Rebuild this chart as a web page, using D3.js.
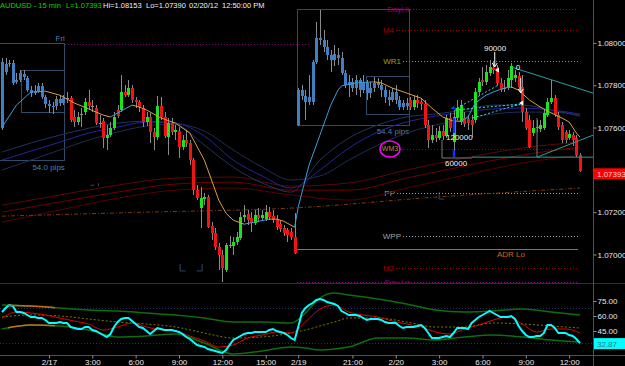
<!DOCTYPE html>
<html><head><meta charset="utf-8">
<script src="https://cdn.jsdelivr.net/npm/d3@7/dist/d3.min.js"></script>
<style>html,body{margin:0;padding:0;background:#000;overflow:hidden}svg{display:block}</style>
</head><body>
<script>
// ---------------- DATA ----------------
const opens=[1.07597,1.07863,1.07900,1.07905,1.07816,1.07825,1.07853,1.07834,1.07777,1.07763,1.07772,1.07797,1.07744,1.07711,1.07702,1.07702,1.07734,1.07716,1.07739,1.07739,
1.07650,1.07626,1.07664,1.07674,1.07721,1.07702,1.07692,1.07621,1.07630,1.07550,1.07564,1.07597,1.07683,1.07683,1.07768,1.07753,1.07787,1.07730,1.07721,1.07692,
1.07626,1.07650,1.07579,1.07555,1.07702,1.07650,1.07555,1.07621,1.07579,1.07583,1.07508,1.07541,1.07527,1.07446,1.07304,1.07219,1.07262,1.07271,1.07134,1.07100,
1.07035,1.06997,1.06926,1.07044,1.07040,1.07059,1.07077,1.07176,1.07191,1.07172,1.07148,1.07186,1.07172,1.07167,1.07200,1.07181,1.07167,1.07143,1.07124,1.07115,
1.07106,1.07082,1.07612,1.07777,1.07749,1.07721,1.07721,1.07910,1.08023,1.08014,1.07981,1.07943,1.07919,1.07943,1.07928,1.07858,1.07801,1.07816,1.07787,1.07825,
1.07777,1.07811,1.07763,1.07787,1.07811,1.07801,1.07777,1.07744,1.07730,1.07768,1.07730,1.07697,1.07716,1.07730,1.07697,1.07730,1.07721,1.07711,1.07612,1.07541,
1.07564,1.07550,1.07583,1.07560,1.07645,1.07531,1.07645,1.07626,1.07645,1.07640,1.07635,1.07635,1.07768,1.07825,1.07816,1.07858,1.07881,1.07881,1.07811,1.07787,
1.07787,1.07825,1.07834,1.07844,1.07792,1.07674,1.07635,1.07574,1.07602,1.07593,1.07597,1.07659,1.07721,1.07739,1.07659,1.07612,1.07579,1.07550,1.07564,1.07550,1.07470];
const highs=[1.07928,1.07928,1.07919,1.07919,1.07858,1.07872,1.07872,1.07844,1.07797,1.07801,1.07811,1.07811,1.07753,1.07730,1.07721,1.07749,1.07753,1.07753,1.07768,1.07749,
1.07683,1.07674,1.07692,1.07739,1.07777,1.07730,1.07706,1.07659,1.07645,1.07612,1.07626,1.07674,1.07706,1.07848,1.07801,1.07825,1.07801,1.07744,1.07730,1.07706,
1.07674,1.07669,1.07597,1.07749,1.07744,1.07674,1.07645,1.07645,1.07612,1.07602,1.07564,1.07588,1.07541,1.07456,1.07328,1.07319,1.07290,1.07280,1.07153,1.07124,
1.07054,1.07021,1.07054,1.07087,1.07082,1.07106,1.07200,1.07233,1.07210,1.07200,1.07210,1.07219,1.07210,1.07233,1.07224,1.07210,1.07186,1.07162,1.07139,1.07124,
1.07124,1.07195,1.07787,1.07801,1.07777,1.07848,1.07919,1.08099,1.08156,1.08061,1.08014,1.07966,1.07990,1.07976,1.07957,1.07872,1.07848,1.07834,1.07848,1.07834,
1.07848,1.07825,1.07816,1.07839,1.07834,1.07825,1.07797,1.07777,1.07787,1.07801,1.07749,1.07730,1.07739,1.07744,1.07749,1.07753,1.07739,1.07730,1.07635,1.07612,
1.07597,1.07607,1.07612,1.07659,1.07669,1.07683,1.07730,1.07730,1.07674,1.07659,1.07659,1.07787,1.07834,1.07886,1.07896,1.07919,1.07910,1.07896,1.07834,1.07825,
1.07872,1.07905,1.07872,1.07863,1.07848,1.07692,1.07659,1.07635,1.07635,1.07635,1.07683,1.07739,1.07825,1.07753,1.07674,1.07626,1.07588,1.07588,1.07579,1.07564,1.07480];
const lows=[1.07588,1.07848,1.07886,1.07801,1.07806,1.07816,1.07825,1.07768,1.07744,1.07753,1.07763,1.07734,1.07692,1.07669,1.07664,1.07683,1.07702,1.07706,1.07716,1.07626,
1.07602,1.07612,1.07602,1.07659,1.07683,1.07674,1.07612,1.07597,1.07503,1.07494,1.07555,1.07588,1.07645,1.07674,1.07744,1.07744,1.07716,1.07692,1.07674,1.07602,
1.07607,1.07527,1.07494,1.07541,1.07635,1.07550,1.07470,1.07564,1.07541,1.07456,1.07494,1.07508,1.07422,1.07280,1.07257,1.07124,1.07233,1.07124,1.07068,1.07021,
1.06926,1.06870,1.06917,1.07030,1.06997,1.07044,1.07068,1.07153,1.07139,1.07106,1.07139,1.07153,1.07162,1.07157,1.07162,1.07148,1.07115,1.07106,1.07087,1.07059,
1.07068,1.07002,1.07607,1.07730,1.07635,1.07706,1.07706,1.07900,1.07990,1.07957,1.07919,1.07863,1.07891,1.07896,1.07848,1.07787,1.07744,1.07768,1.07753,1.07744,
1.07763,1.07730,1.07739,1.07768,1.07787,1.07744,1.07716,1.07702,1.07721,1.07711,1.07683,1.07683,1.07683,1.07683,1.07683,1.07692,1.07683,1.07597,1.07503,1.07527,
1.07531,1.07541,1.07541,1.07550,1.07579,1.07461,1.07635,1.07612,1.07602,1.07588,1.07555,1.07621,1.07753,1.07797,1.07801,1.07844,1.07853,1.07797,1.07768,1.07768,
1.07777,1.07787,1.07816,1.07777,1.07626,1.07588,1.07503,1.07560,1.07579,1.07579,1.07588,1.07650,1.07711,1.07650,1.07588,1.07527,1.07527,1.07541,1.07513,1.07461,1.07390];
const closes=[1.07910,1.07900,1.07905,1.07811,1.07825,1.07858,1.07839,1.07777,1.07763,1.07772,1.07797,1.07744,1.07711,1.07702,1.07697,1.07734,1.07716,1.07739,1.07739,1.07635,
1.07626,1.07650,1.07664,1.07721,1.07702,1.07702,1.07621,1.07621,1.07550,1.07564,1.07597,1.07650,1.07654,1.07768,1.07753,1.07787,1.07730,1.07721,1.07697,1.07626,
1.07650,1.07579,1.07555,1.07702,1.07650,1.07560,1.07621,1.07579,1.07588,1.07508,1.07541,1.07527,1.07446,1.07304,1.07266,1.07266,1.07271,1.07129,1.07100,1.07035,
1.06997,1.06935,1.07044,1.07044,1.07059,1.07082,1.07176,1.07186,1.07162,1.07148,1.07186,1.07172,1.07186,1.07200,1.07176,1.07162,1.07129,1.07120,1.07100,1.07091,
1.07082,1.07007,1.07777,1.07749,1.07721,1.07744,1.07910,1.08023,1.08014,1.07981,1.07943,1.07919,1.07947,1.07928,1.07858,1.07801,1.07816,1.07787,1.07825,1.07777,
1.07811,1.07763,1.07787,1.07811,1.07801,1.07777,1.07744,1.07730,1.07768,1.07730,1.07697,1.07716,1.07702,1.07697,1.07730,1.07716,1.07711,1.07612,1.07541,1.07564,
1.07550,1.07583,1.07560,1.07645,1.07597,1.07650,1.07692,1.07706,1.07616,1.07621,1.07612,1.07768,1.07816,1.07816,1.07863,1.07886,1.07872,1.07811,1.07777,1.07787,
1.07834,1.07891,1.07848,1.07792,1.07674,1.07597,1.07508,1.07597,1.07602,1.07612,1.07669,1.07721,1.07739,1.07659,1.07602,1.07541,1.07541,1.07569,1.07541,1.07470,1.07393];

// fast MA (knots: bar index, value); colour follows slope
const maIdx=[0,4,8,12,16,20,24,28,30,32,36,38,40,44,48,52,56,58,60,62,64,67,70,74,76,78,81,82,85,88,91,93,94,98,103,105,108,112,116,119,122,125,127,129,131,134,136,139,141,143,146,149,152,155,157,159,160];
const maVal=[1.07602,1.07706,1.07768,1.07772,1.07753,1.07716,1.07688,1.07659,1.07650,1.07669,1.07706,1.07697,1.07683,1.07645,1.07621,1.07574,1.07446,1.07352,1.07257,1.07195,1.07162,1.07143,1.07153,1.07167,1.07167,1.07157,1.07129,1.07224,1.07423,1.07564,1.07706,1.07777,1.07797,1.07811,1.07816,1.07811,1.07787,1.07763,1.07739,1.07692,1.07650,1.07630,1.07630,1.07650,1.07716,1.07753,1.07768,1.07787,1.07792,1.07777,1.07730,1.07697,1.07669,1.07645,1.07626,1.07574,1.07555];

// blue ribbon (every 8 bars)
const ribIdx=[0,8,16,24,32,40,48,56,64,72,80,88,96,104,112,120,128,136,144,152,160];
const ribFast=[1.07484,1.07527,1.07564,1.07597,1.07621,1.07630,1.07616,1.07517,1.07413,1.07338,1.07295,1.07446,1.07550,1.07612,1.07650,1.07664,1.07683,1.07706,1.07706,1.07683,1.07654];
const ribMid=[1.07446,1.07489,1.07531,1.07574,1.07602,1.07626,1.07621,1.07560,1.07446,1.07371,1.07314,1.07399,1.07503,1.07579,1.07626,1.07654,1.07673,1.07688,1.07692,1.07683,1.07664];
const ribSlow=[1.07399,1.07446,1.07494,1.07541,1.07579,1.07607,1.07616,1.07583,1.07494,1.07413,1.07352,1.07371,1.07446,1.07517,1.07574,1.07612,1.07640,1.07664,1.07673,1.07673,1.07659];

// dark red ribbon (every 16 bars)
const redIdx=[0,16,32,48,64,80,96,112,128,144,160];
const red1=[1.07233,1.07281,1.07328,1.07361,1.07366,1.07323,1.07338,1.07399,1.07456,1.07503,1.07531];
const red2=[1.07200,1.07248,1.07295,1.07333,1.07342,1.07304,1.07304,1.07361,1.07418,1.07470,1.07508];
const red3=[1.07153,1.07210,1.07266,1.07304,1.07314,1.07281,1.07257,1.07314,1.07375,1.07432,1.07470];
const brownIdx=[0,40,80,120,160];
const brownVal=[1.07181,1.07200,1.07219,1.07271,1.07314];

// pivot levels
const levelNames=["DayHi","M4","WR1","WM3","PP","WPP","M2","Day Lo"];
const levelPrices=[1.08160,1.08061,1.07915,1.07499,1.07290,1.07087,1.06935,1.06869];
const adrLo=1.07026, friHigh=1.07995;

// session boxes [startIdx,endIdx,top,bottom]
const boxStart=[-0.8,5.5,81.9,100.8];
const boxEnd=[17.4,17.4,112.7,112.7];
const boxTop=[1.07995,1.07872,1.08160,1.07839];
const boxBottom=[1.07442,1.07669,1.07612,1.07664];
const boxPips=["54.0 pips","54.4 pips"];

// annotations
const annText=["90000","0","120000","60000"];
const annIdx=[136.5,142.8,126.6,125.7];
const annPrice=[1.07976,1.07886,1.07555,1.07432];

// time axis
const tickIdx=[13,25,37,49,61,73,82,97,109,121,133,145,157];
const tickLab=["2/17","3:00","6:00","9:00","12:00","15:00","2/19","21:00","2/20","3:00","6:00","9:00","12:00"];
const priceTicks=[1.070,1.072,1.074,1.076,1.078,1.080];
const lastPrice=1.07393;

// lower oscillator
const rsi=[64,68,71,70,64,64,63,61,59,59,58,58,56,53,53,53,54,53,53,49,48,47,47,49,49,46,45,43,41,39,42,49,54,57,58,58,55,52,49,48,
45,42,45,48,47,46,46,46,45,44,42,39,37,34,31,30,29,27,26,25,24,23,26,31,36,38,40,42,43,43,44,44,44,44,46,47,45,44,43,41,
38,36,49,63,68,71,73,76,77,76,74,73,72,70,65,63,61,61,61,60,58,56,57,57,57,56,54,53,53,53,50,48,49,49,49,50,51,48,43,38,
38,38,39,40,39,43,48,48,48,47,53,56,59,61,63,65,63,61,59,59,59,60,57,50,45,41,39,39,40,40,43,51,51,48,43,43,43,41,40,37,32.87];
const sigIdx=d3.range(0,161,4);
const sig=[58,64,63,61,58,55,52,46,49,53,49,46,45,40,35,29,31,38,41,44,43,54,67,71,64,61,59,55,52,49,44,42,47,51,56,59,52,44,47,47,43];
const bandIdx=[0,8,16,24,32,40,48,56,64,72,80,84,88,92,96,104,112,120,128,136,144,152,160];
const bandUp=[71,70,68,66,65,63,61,58,54,54,53,63,78,83,81,77,72,66,64,65,67,64,61];
const bandLo=[47,51,50,46,39,40,42,33,22,25,29,28,26,27,29,38,38,36,39,41,39,36,34];
const bandMid=[59,61,60,57,54,52,49,43,38,39,43,46,50,54,58,58,54,49,49,53,52,50,48];
const rsiTicks=[45,60,75];

// ---------------- DRAW ----------------
const W=625,H=366;
const FONT="'Liberation Sans', Arial, sans-serif";
const svg=d3.select("body").append("svg").attr("width",W).attr("height",H);
svg.append("rect").attr("width",W).attr("height",H).attr("fill","#000");
const x=d3.scaleLinear().domain([0,160]).range([2,580]);
const y=d3.scaleLinear().domain([1.06865,1.08203]).range([283,0]);
const yr=d3.scaleLinear().domain([21,93]).range([355,283]);
const defs=svg.append("defs");
defs.append("clipPath").attr("id","cm").append("rect").attr("x",0).attr("y",0).attr("width",593).attr("height",283);
defs.append("clipPath").attr("id","cl").append("rect").attr("x",0).attr("y",283.5).attr("width",593).attr("height",71.5);
defs.append("clipPath").attr("id","co").append("rect").attr("x",8).attr("y",283).attr("width",47).attr("height",72);
defs.append("clipPath").attr("id","c74").attr("clipPathUnits","userSpaceOnUse").append("rect").attr("x",-10).attr("y",-10).attr("width",60).attr("height",7);
const gm=svg.append("g").attr("clip-path","url(#cm)");

// boxes
const boxCol="#2f4a66";
boxStart.forEach((s,k)=>{
  gm.append("rect").attr("x",x(s)).attr("y",y(boxTop[k])).attr("width",x(boxEnd[k])-x(s)).attr("height",y(boxBottom[k])-y(boxTop[k]))
    .attr("fill","none").attr("stroke",boxCol).attr("stroke-width",1).attr("shape-rendering","crispEdges");
});
gm.append("text").attr("x",x(boxEnd[0])).attr("y",y(boxTop[0])-3).attr("text-anchor","end").attr("fill","#4a7fb5").attr("font-size","8px").attr("font-family",FONT).text("Fri");
gm.append("text").attr("x",x(boxEnd[0])).attr("y",y(boxBottom[0])+9).attr("text-anchor","end").attr("fill","#4a7fb5").attr("font-size","8px").attr("font-family",FONT).text(boxPips[0]);
gm.append("text").attr("x",x(boxEnd[2])).attr("y",y(boxBottom[2])+9).attr("text-anchor","end").attr("fill","#4a7fb5").attr("font-size","8px").attr("font-family",FONT).text(boxPips[1]);
// corner marks
gm.append("path").attr("d",`M${x(49.3)},${y(1.06955)}V${y(1.06922)}H${x(50.8)}M${x(53.9)},${y(1.06922)}H${x(55.4)}V${y(1.06955)}`)
  .attr("fill","none").attr("stroke",boxCol).attr("stroke-width",1);
gm.append("path").attr("d",`M${x(121)},${y(1.07295)}V${y(1.07262)}H${x(122.4)}`).attr("fill","none").attr("stroke",boxCol);
gm.append("path").attr("d",`M${x(24.5)},${y(1.07327)}H${x(25.5)}M${x(26.7)},${y(1.07337)}V${y(1.07322)}`).attr("fill","none").attr("stroke",boxCol);

// level lines
const lvlCol=["#8a008a","#a00000","#a0a000","#900000","#a0a0a0","#a0a0a0","#a00000","#8a008a"];
const lvlStart=[410,396,403,401,397,403,396,297];
const lvlLabelEnd=[409,394,401,null,395,401,394,410];
levelPrices.forEach((p,k)=>{
  gm.append("line").attr("x1",lvlStart[k]).attr("x2",578).attr("y1",Math.round(y(p))+0.5).attr("y2",Math.round(y(p))+0.5)
    .attr("stroke",lvlCol[k]).attr("stroke-width",1).attr("stroke-dasharray","1,2");
  if(lvlLabelEnd[k]!==null)
    gm.append("text").attr("x",lvlLabelEnd[k]).attr("y",y(p)+3).attr("text-anchor","end").attr("fill",lvlCol[k])
      .attr("font-size","8px").attr("font-family",FONT).text(levelNames[k]);
});
gm.append("line").attr("x1",x(17.4)).attr("x2",310).attr("y1",Math.round(y(friHigh))+0.5).attr("y2",Math.round(y(friHigh))+0.5)
  .attr("stroke","#8a008a").attr("stroke-dasharray","1,2");
gm.append("line").attr("x1",296).attr("x2",578).attr("y1",Math.round(y(adrLo))+0.5).attr("y2",Math.round(y(adrLo))+0.5)
  .attr("stroke","#c0601a").attr("stroke-width",1);
gm.append("text").attr("x",511).attr("y",y(adrLo)+8).attr("text-anchor","middle").attr("fill","#d0681a").attr("font-size","8px").attr("font-family",FONT).text("ADR Lo");

// ribbons
const curve=d3.curveMonotoneX;
const lineK=(idx)=>d3.line().x((d,i)=>x(idx[i])).y(d=>y(d)).curve(curve);
[[red3,"#5a0000"],[red2,"#700000"],[red1,"#5a0808"]].forEach(([a,c])=>{
  gm.append("path").attr("d",lineK(redIdx)(a)).attr("fill","none").attr("stroke",c).attr("stroke-width",1);
});
gm.append("path").attr("d",lineK(brownIdx)(brownVal)).attr("fill","none").attr("stroke","#7a3a10").attr("stroke-width",1).attr("stroke-dasharray","4,2,1,2");
[[ribSlow,"#1c2e58"],[ribFast,"#1f3560"],[ribMid,"#2525a0"]].forEach(([a,c])=>{
  gm.append("path").attr("d",lineK(ribIdx)(a)).attr("fill","none").attr("stroke",c).attr("stroke-width",1);
});

// candles
const gc=gm.append("g").attr("shape-rendering","crispEdges");
opens.forEach((o,i)=>{
  const c=closes[i], cx=Math.round(x(i));
  const blue=(i<=17)||(i>=82&&i<=112);
  let col=blue?"#3f7fc4":(c>o?"#19e619":(c<o?"#f01414":"#909090"));
  gc.append("line").attr("x1",cx+0.5).attr("x2",cx+0.5).attr("y1",y(highs[i])).attr("y2",y(lows[i])).attr("stroke","#8a8a8a");
  const t=Math.min(y(o),y(c)), b=Math.max(y(o),y(c));
  gc.append("rect").attr("x",cx-1).attr("y",t).attr("width",3).attr("height",Math.max(1,b-t)).attr("fill",col);
});

// fast MA, coloured by slope
for(let k=0;k<maIdx.length-1;k++){
  const up=maVal[k+1]>maVal[k];
  gm.append("line").attr("x1",x(maIdx[k])).attr("y1",y(maVal[k])).attr("x2",x(maIdx[k+1])).attr("y2",y(maVal[k+1]))
    .attr("stroke",up?"#3a9ee0":"#dca040").attr("stroke-width",1);
}

// pattern lines
const teal="#2aa0a0";
gm.append("line").attr("x1",x(141)).attr("y1",y(1.07886)).attr("x2",x(163.6)).attr("y2",y(1.07763)).attr("stroke",teal);
gm.append("line").attr("x1",x(148.1)).attr("y1",y(1.07460)).attr("x2",x(163.6)).attr("y2",y(1.07564)).attr("stroke",teal);
gm.append("line").attr("x1",x(130.1)).attr("y1",y(1.07460)).attr("x2",x(163.6)).attr("y2",y(1.07460)).attr("stroke",teal);
gm.append("line").attr("x1",x(121.8)).attr("y1",y(1.07456)).attr("x2",x(130.1)).attr("y2",y(1.07456)).attr("stroke","#7a7a7a");
gm.append("line").attr("x1",x(121.8)).attr("y1",y(1.07541)).attr("x2",x(121.8)).attr("y2",y(1.07456)).attr("stroke","#7a7a7a");
gm.append("line").attr("x1",x(148.1)).attr("y1",y(1.07645)).attr("x2",x(148.1)).attr("y2",y(1.07460)).attr("stroke","#7a7a7a");
[[125.4,1.07683,143.5,1.07711],[130.3,1.07645,143.5,1.07711],[126,1.07692,137,1.07797]].forEach(s=>{
  gm.append("line").attr("x1",x(s[0])).attr("y1",y(s[1])).attr("x2",x(s[2])).attr("y2",y(s[3])).attr("stroke","#3cd8d8").attr("stroke-dasharray","2,2");
});
// blue markers
gm.append("rect").attr("x",x(125.2)-1.5).attr("y",y(1.07645)).attr("width",2.5).attr("height",y(1.07574)-y(1.07645)).attr("fill","#1030ff");
gm.append("rect").attr("x",x(125.2)-1.5).attr("y",y(1.07494)).attr("width",2.5).attr("height",y(1.07461)-y(1.07494)).attr("fill","#1030ff");
gm.append("path").attr("d",`M${x(125)},${y(1.07702)}l-3,3h6z`).attr("fill","#1030ff");
// annotations
annText.forEach((t,k)=>{
  gm.append("text").attr("x",x(annIdx[k])).attr("y",y(annPrice[k])+3).attr("text-anchor","middle").attr("fill","#f0f0f0")
    .attr("font-size","8px").attr("font-family",FONT).text(t);
});
[[136.4,1.07957,1.07891],[143.6,1.07834,1.07768]].forEach(a=>{
  const ax=x(a[0]);
  gm.append("line").attr("x1",ax).attr("x2",ax).attr("y1",y(a[1])).attr("y2",y(a[2])).attr("stroke","#fff");
  gm.append("path").attr("d",`M${ax-2.5},${y(a[2])-3}L${ax},${y(a[2])+1}L${ax+2.5},${y(a[2])-3}`).attr("fill","none").attr("stroke","#fff");
});
[[137,1.07872],[143.7,1.07716]].forEach(f=>{
  gm.append("path").attr("d",`M${x(f[0])+2},${y(f[1])-2.5}v5l-4,-2.5z`).attr("fill","#fff");
});
// WM3 marker
gm.append("ellipse").attr("cx",x(107.4)).attr("cy",y(1.07499)).attr("rx",10).attr("ry",8).attr("fill","none").attr("stroke","#ff00ff").attr("stroke-width",1.5);
gm.append("text").attr("x",x(107.4)).attr("y",y(1.07499)+2.5).attr("text-anchor","middle").attr("fill","#c08a3a").attr("font-size","7px").attr("font-family",FONT).text("WM3");

// ---------- lower panel ----------
const gl=svg.append("g").attr("clip-path","url(#cl)");
const ly=(idx)=>d3.line().x((d,i)=>x(idx[i])).y(d=>yr(d)).curve(curve);
[yr(68),yr(33)].forEach(v=>gl.append("line").attr("x1",0).attr("x2",593).attr("y1",Math.round(v)+0.5).attr("y2",Math.round(v)+0.5).attr("stroke","#23306a").attr("stroke-dasharray","1,2"));
gl.append("path").attr("d",ly(bandIdx)(bandMid)).attr("fill","none").attr("stroke","#7a7a00").attr("stroke-dasharray","2,2");
gl.append("path").attr("d",ly(bandIdx)(bandUp)).attr("fill","none").attr("stroke","#0d6e0d").attr("stroke-width",1.5);
gl.append("path").attr("d",ly(bandIdx)(bandLo)).attr("fill","none").attr("stroke","#0d6e0d").attr("stroke-width",1.5);
const go=svg.append("g").attr("clip-path","url(#co)");
go.append("path").attr("d",ly(bandIdx)(bandUp)).attr("fill","none").attr("stroke","#c86a10").attr("stroke-width",1.5);
go.append("path").attr("d",ly(bandIdx)(bandLo)).attr("fill","none").attr("stroke","#c86a10").attr("stroke-width",1.5);
gl.append("path").attr("d",ly(sigIdx)(sig)).attr("fill","none").attr("stroke","#e80000").attr("stroke-width",1);
gl.append("path").attr("d",d3.line().x((d,i)=>x(i)).y(d=>yr(d))(rsi)).attr("fill","none").attr("stroke","#00ffff").attr("stroke-width",2);

// ---------- frames & axes ----------
svg.append("line").attr("x1",0).attr("x2",W).attr("y1",283.5).attr("y2",283.5).attr("stroke","#303030");
svg.append("line").attr("x1",0).attr("x2",W).attr("y1",355.5).attr("y2",355.5).attr("stroke","#505050");
svg.append("line").attr("x1",593.5).attr("x2",593.5).attr("y1",0).attr("y2",366).attr("stroke","#505050");

function styleAxis(g){
  g.select(".domain").remove();
  g.selectAll("line").attr("stroke","#909090");
  g.selectAll("text").attr("fill","#e8e8e8").attr("font-size","8px").attr("font-family",FONT);
}
const pa=svg.append("g").attr("transform","translate(593.5,0)")
  .call(d3.axisRight(y).tickValues(priceTicks).tickFormat(d3.format(".5f")).tickSize(3).tickPadding(1)).call(styleAxis);
// the 1.07400 label sits behind the last-price box: only its top sliver shows
pa.selectAll(".tick").filter(d=>Math.abs(d-1.074)<1e-9).select("text").attr("clip-path","url(#c74)");
svg.append("g").attr("transform","translate(593.5,0)")
  .call(d3.axisRight(yr).tickValues(rsiTicks).tickFormat(d3.format(".2f")).tickSize(3).tickPadding(1)).call(styleAxis);
svg.append("g").attr("transform","translate(0,355.5)")
  .call(d3.axisBottom(x).tickValues(tickIdx).tickFormat((d,i)=>tickLab[i]).tickSize(3).tickPadding(1)).call(styleAxis);

// last value boxes
svg.append("rect").attr("x",594).attr("y",y(lastPrice)-3).attr("width",31).attr("height",11).attr("fill","#ff0000");
svg.append("text").attr("x",597).attr("y",y(lastPrice)+6).attr("fill","#ffd0d0").attr("font-size","8px").attr("font-family",FONT).text(d3.format(".5f")(lastPrice));
svg.append("rect").attr("x",594).attr("y",yr(rsi[160])-5).attr("width",31).attr("height",11).attr("fill","#00ffff");
svg.append("text").attr("x",597).attr("y",yr(rsi[160])+4).attr("fill","#2a8080").attr("font-size","8px").attr("font-family",FONT).text(d3.format(".2f")(rsi[160]));

// title
const tt=svg.append("text").attr("x",0).attr("y",8).attr("font-size","7.5px").attr("font-family",FONT);
tt.append("tspan").attr("fill","#00d800").text("AUDUSD - 15 min");
tt.append("tspan").attr("x",66).attr("fill","#00d800").text("L=1.07393");
tt.append("tspan").attr("x",103).attr("fill","#f0f0f0").text("Hi=1.08153");
tt.append("tspan").attr("x",146).attr("fill","#f0f0f0").text("Lo=1.07390");
tt.append("tspan").attr("x",189).attr("fill","#f0f0f0").text("02/20/12");
tt.append("tspan").attr("x",222).attr("fill","#f0f0f0").text("12:50:00 PM");
</script>
</body></html>
